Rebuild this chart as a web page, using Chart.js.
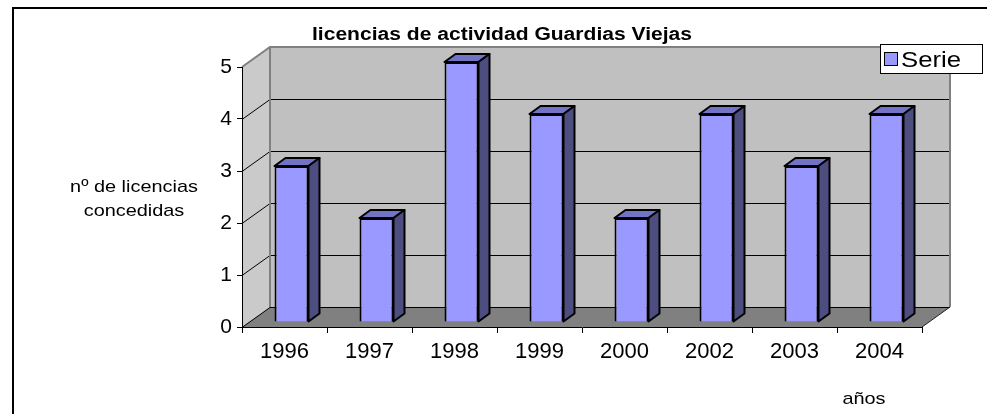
<!DOCTYPE html>
<html>
<head>
<meta charset="utf-8">
<script src="https://cdn.jsdelivr.net/npm/chart.js@4.4.1/dist/chart.umd.min.js"></script>
<style>
  html, body { margin: 0; padding: 0; background: #fff; }
  #wrap { width: 987px; height: 414px; }
</style>
</head>
<body>
<div id="wrap"><canvas id="grafico" width="987" height="414"></canvas></div>
<script>
// licencias concedidas por año
const anios = ['1996', '1997', '1998', '1999', '2000', '2002', '2003', '2004'];
const licencias = [3, 2, 5, 4, 2, 4, 3, 4];
const ticksY = [0, 1, 2, 3, 4, 5];

const titulo = 'licencias de actividad Guardias Viejas';
const tituloY = ['nº de licencias', 'concedidas'];
const tituloX = 'años';
const nombreSerie = 'Serie';

// profundidad de las paredes y de las barras (efecto 3D)
const FONDO_X = 28, FONDO_Y = -20;
const BARRA_X = 11, BARRA_Y = -8;
const DESPL_X = 7, DESPL_Y = -5;
// los textos del gráfico original van algo ensanchados
const ANCHO_TEXTO = 1.17;

function poligono(ctx, puntos, relleno, trazo, grosor) {
    ctx.beginPath();
    ctx.moveTo(puntos[0][0], puntos[0][1]);
    for (let i = 1; i < puntos.length; i++) ctx.lineTo(puntos[i][0], puntos[i][1]);
    ctx.closePath();
    if (relleno) { ctx.fillStyle = relleno; ctx.fill(); }
    if (trazo) { ctx.strokeStyle = trazo; ctx.lineWidth = grosor || 1; ctx.stroke(); }
}

function linea(ctx, puntos, color, grosor) {
    ctx.beginPath();
    ctx.moveTo(puntos[0][0], puntos[0][1]);
    for (let i = 1; i < puntos.length; i++) ctx.lineTo(puntos[i][0], puntos[i][1]);
    ctx.strokeStyle = color;
    ctx.lineWidth = grosor || 1;
    ctx.stroke();
}

function texto(ctx, cadena, x, y, alinear) {
    ctx.save();
    ctx.translate(x, y);
    ctx.scale(ANCHO_TEXTO, 1);
    ctx.textAlign = alinear;
    ctx.fillText(cadena, 0, 0);
    ctx.restore();
}

const fondo3D = {
    id: 'fondo3D',
    beforeDraw(chart) {
        const ctx = chart.ctx;
        const { left, right, top, bottom } = chart.chartArea;
        const y = chart.scales.y;
        ctx.save();
        ctx.fillStyle = '#fff';
        ctx.fillRect(0, 0, chart.width, chart.height);

        // marco exterior
        ctx.strokeStyle = '#000';
        ctx.lineWidth = 2;
        ctx.strokeRect(13, 8, 1000, 500);

        // pared del fondo, pared lateral y suelo
        poligono(ctx, [[left + FONDO_X, top + FONDO_Y], [right + FONDO_X, top + FONDO_Y],
            [right + FONDO_X, bottom + FONDO_Y], [left + FONDO_X, bottom + FONDO_Y]], '#c0c0c0');
        poligono(ctx, [[left, top], [left + FONDO_X, top + FONDO_Y],
            [left + FONDO_X, bottom + FONDO_Y], [left, bottom]], '#cacaca');
        poligono(ctx, [[left, bottom], [right, bottom],
            [right + FONDO_X, bottom + FONDO_Y], [left + FONDO_X, bottom + FONDO_Y]], '#808080');

        // líneas de división
        y.ticks.forEach(t => {
            if (t.value === y.max) return;
            const py = Math.round(y.getPixelForValue(t.value)) + 0.5;
            linea(ctx, [[left, py], [left + FONDO_X, py + FONDO_Y], [right + FONDO_X, py + FONDO_Y]], '#000', 1);
        });

        // bordes grises de las paredes
        const py5 = y.getPixelForValue(y.max);
        linea(ctx, [[left, py5], [left + FONDO_X, py5 + FONDO_Y], [right + FONDO_X, py5 + FONDO_Y],
            [right + FONDO_X, bottom + FONDO_Y]], '#808080', 2);
        linea(ctx, [[left + FONDO_X, py5 + FONDO_Y], [left + FONDO_X, bottom + FONDO_Y]], '#808080', 2);
        linea(ctx, [[right, bottom], [right + FONDO_X, bottom + FONDO_Y]], '#202020', 1);

        // títulos
        ctx.fillStyle = '#000';
        ctx.textBaseline = 'alphabetic';
        ctx.font = 'bold 18px Arial, "Liberation Sans"';
        texto(ctx, titulo, 502, 40, 'center');
        ctx.font = '17px Arial, "Liberation Sans"';
        texto(ctx, tituloY[0], 134, 192, 'center');
        texto(ctx, tituloY[1], 134, 216, 'center');
        texto(ctx, tituloX, 864, 404, 'center');

        // leyenda
        ctx.fillStyle = '#fff';
        ctx.fillRect(880, 44, 102, 29);
        ctx.strokeStyle = '#000';
        ctx.lineWidth = 1;
        ctx.strokeRect(880.5, 44.5, 102, 29);
        ctx.fillStyle = '#9999ff';
        ctx.fillRect(884.5, 52.5, 13, 13);
        ctx.strokeRect(884.5, 52.5, 13, 13);
        ctx.fillStyle = '#000';
        ctx.font = '22px Arial, "Liberation Sans"';
        texto(ctx, nombreSerie, 901, 67, 'left');
        ctx.restore();
    },
    beforeDatasetsDraw(chart) {
        const ctx = chart.ctx;
        const meta = chart.getDatasetMeta(0);
        ctx.save();
        ctx.translate(DESPL_X, DESPL_Y);
        ctx.lineJoin = 'round';
        meta.data.forEach(barra => {
            const { x, y, base, width } = barra.getProps(['x', 'y', 'base', 'width'], true);
            const izq = x - width / 2, der = x + width / 2;
            // cara superior
            poligono(ctx, [[izq, y], [izq + BARRA_X, y + BARRA_Y], [der + BARRA_X, y + BARRA_Y], [der, y]],
                '#7373c6', '#000', 2);
            // cara lateral
            poligono(ctx, [[der, y], [der + BARRA_X, y + BARRA_Y], [der + BARRA_X, base + BARRA_Y], [der, base]],
                '#4d4d80', '#000', 2);
        });
        // la cara frontal la dibuja Chart.js con este mismo desplazamiento
    },
    afterDatasetsDraw(chart) {
        chart.ctx.restore();
    }
};

new Chart(document.getElementById('grafico'), {
    type: 'bar',
    data: {
        labels: anios,
        datasets: [{
            label: nombreSerie,
            data: licencias,
            backgroundColor: '#9999ff',
            borderColor: '#000',
            borderWidth: 2,
            barPercentage: 0.4,
            categoryPercentage: 1
        }]
    },
    options: {
        responsive: false,
        animation: false,
        layout: { padding: { top: 67, right: 65, left: 0, bottom: 0 } },
        plugins: {
            legend: { display: false },
            title: { display: false },
            tooltip: { enabled: false }
        },
        scales: {
            x: {
                afterFit: s => { s.height = 87; },
                grid: { offset: true, drawOnChartArea: false, drawTicks: true, tickLength: 6, color: '#000' },
                border: { color: '#000', width: 1 },
                ticks: { color: '#000', padding: 6, font: { family: 'Arial, "Liberation Sans"', size: 22 } }
            },
            y: {
                min: ticksY[0],
                max: ticksY[ticksY.length - 1],
                afterFit: s => { s.width = 242; },
                afterBuildTicks: s => { s.ticks = ticksY.map(v => ({ value: v })); },
                grid: { drawOnChartArea: false, drawTicks: true, tickLength: 5, color: '#000' },
                border: { color: '#000', width: 1 },
                ticks: { color: '#000', padding: 5, font: { family: 'Arial, "Liberation Sans"', size: 21 } }
            }
        }
    },
    plugins: [fondo3D]
});
</script>
</body>
</html>
